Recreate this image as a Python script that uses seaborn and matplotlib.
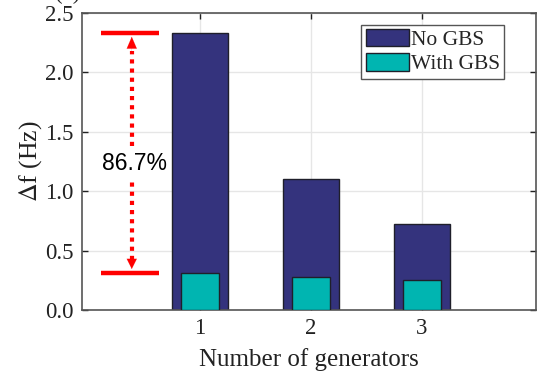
import matplotlib
matplotlib.use("Agg")
import matplotlib.pyplot as plt
from matplotlib.patches import Patch
import seaborn as sns
import pandas as pd

# Data
generators = [1, 2, 3]
no_gbs = [2.33, 1.10, 0.72]
with_gbs = [0.31, 0.28, 0.25]
reduction_label = "86.7%"
series_labels = ["No GBS", "With GBS"]
ytick_values = [0.0, 0.5, 1.0, 1.5, 2.0, 2.5]

navy = "#34337d"
teal = "#00b5b1"
edge = "#1f1f2a"

sns.set_theme(style="white")
plt.rcParams["font.family"] = ["Liberation Serif", "DejaVu Serif"]
plt.rcParams["mathtext.fontset"] = "stix"

df = pd.DataFrame({"gen": generators, "no": no_gbs, "with": with_gbs})

fig = plt.figure(figsize=(5.38, 3.82), dpi=100)
ax = fig.add_axes([82 / 538, 1 - 310 / 382, (536 - 82) / 538, (310 - 13) / 382])

sns.barplot(data=df, x="gen", y="no", native_scale=True, width=0.5,
            color=navy, edgecolor=edge, linewidth=1.0, saturation=1, ax=ax, zorder=2)
sns.barplot(data=df, x="gen", y="with", native_scale=True, width=0.34,
            color=teal, edgecolor=edge, linewidth=1.0, saturation=1, ax=ax, zorder=3)

ax.set_xlim(-0.065, 4.03)
ax.set_ylim(0, 2.5)
ax.set_xticks(generators)
ax.set_xticklabels([str(g) for g in generators])
ax.set_yticks(ytick_values)
ax.set_yticklabels([f"{v:.1f}" for v in ytick_values])

ax.grid(True, color="#e6e6e6", linewidth=1.0, zorder=0)
ax.set_axisbelow(True)
for s in ax.spines.values():
    s.set_visible(True)
    s.set_color("#555555")
    s.set_linewidth(1.2)
ax.tick_params(axis="both", which="both", direction="in", length=4, width=1,
               color="#222222", labelsize=16.5, labelcolor="#222222",
               top=True, right=True, bottom=True, left=True, pad=6)

ax.set_xlabel("Number of generators", fontsize=18, color="#222222", labelpad=6)
ax.set_ylabel(r"$\Delta$f (Hz)", fontsize=18.5, color="#222222", labelpad=1)

# Reduction marker between the first pair of bars
red = "#ff0000"
hi, lo = no_gbs[0], with_gbs[0]
ax.plot([0.107, 0.633], [hi, hi], color=red, lw=3.2, solid_capstyle="butt", zorder=4)
ax.plot([0.107, 0.633], [lo, lo], color=red, lw=3.2, solid_capstyle="butt", zorder=4)
ax_x = 0.384
ax.plot([ax_x, ax_x], [1.38, 2.18], color=red, lw=3.0, ls=(0, (1.0, 1.2)), zorder=4)
ax.plot([ax_x, ax_x], [0.42, 1.09], color=red, lw=3.0, ls=(0, (1.0, 1.2)), zorder=4)
ax.annotate("", xy=(ax_x, 2.30), xytext=(ax_x, 2.17),
            arrowprops=dict(arrowstyle="-|>,head_length=0.7,head_width=0.3",
                            color=red, lw=0.1, shrinkA=0, shrinkB=0), zorder=5)
ax.annotate("", xy=(ax_x, 0.345), xytext=(ax_x, 0.43),
            arrowprops=dict(arrowstyle="-|>,head_length=0.6,head_width=0.3",
                            color=red, lw=0.1, shrinkA=0, shrinkB=0), zorder=5)
ax.text(0.41, 1.23, reduction_label, fontsize=16.5, ha="center", va="center",
        family=["Liberation Sans", "DejaVu Sans"], color="black", zorder=5)

handles = [Patch(facecolor=navy, edgecolor=edge, linewidth=1.0, label=series_labels[0]),
           Patch(facecolor=teal, edgecolor=edge, linewidth=1.0, label=series_labels[1])]
leg = ax.legend(handles=handles, loc="upper right", bbox_to_anchor=(0.93, 0.96),
                fontsize=15.5, frameon=True, fancybox=False, framealpha=1,
                edgecolor="#555555", handlelength=2.0, handleheight=0.85,
                handletextpad=0.1, borderpad=0.2, labelspacing=0.15, borderaxespad=0)
leg.get_frame().set_linewidth(1.0)

fig.text(68 / 538, 1 + 1 / 382, "(a)", fontsize=16.5, ha="center", va="baseline",
         color="#222222")

fig.savefig("out.png", dpi=100)
